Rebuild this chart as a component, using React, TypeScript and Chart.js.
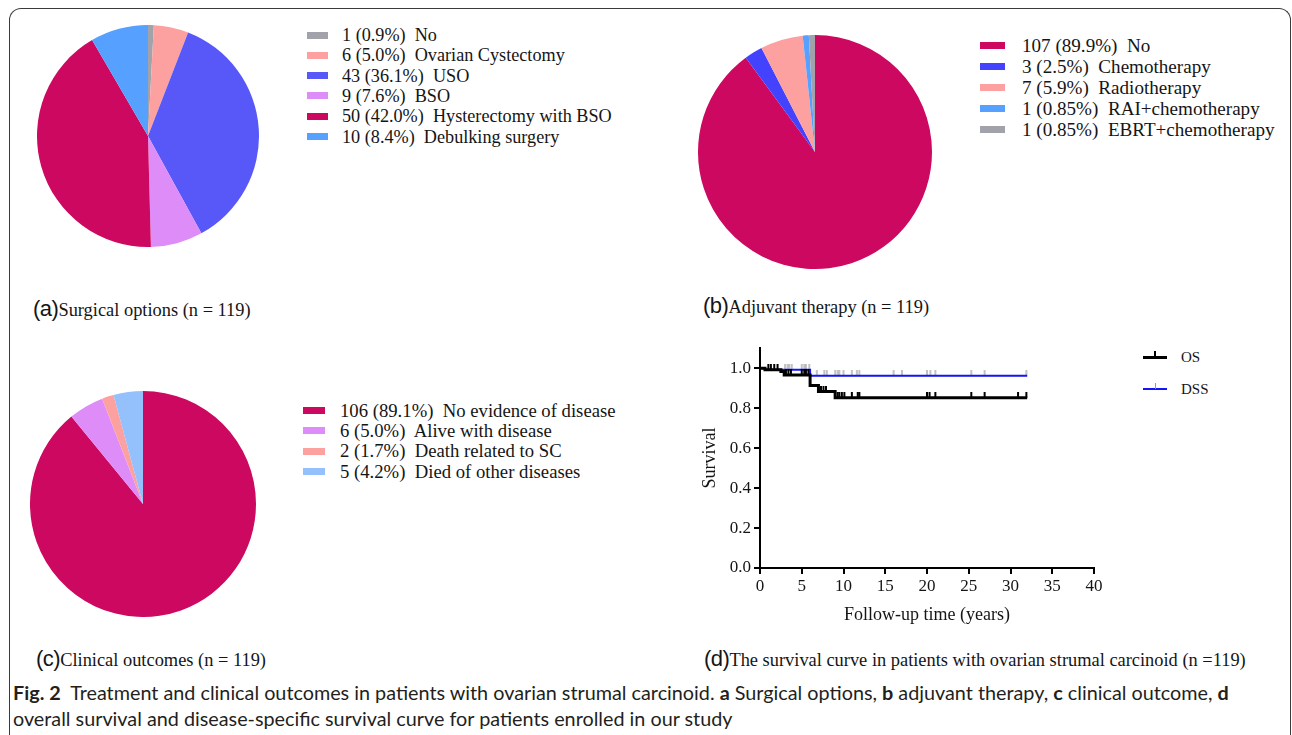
import React, { useEffect, useRef } from 'react';
import { Chart, registerables } from 'chart.js';

Chart.register(...registerables);

// ---------- Data ----------
const surgicalNames = ['No', 'Ovarian Cystectomy', 'USO', 'BSO', 'Hysterectomy with BSO', 'Debulking surgery'];
const surgicalCounts = [1, 6, 43, 9, 50, 10];
const surgicalPercents = ['0.9%', '5.0%', '36.1%', '7.6%', '42.0%', '8.4%'];
const surgicalColors = ['#A2A2AA', '#FCA0A0', '#5858F8', '#DE8CF8', '#CC0860', '#56A0FF'];

const adjuvantNames = ['No', 'Chemotherapy', 'Radiotherapy', 'RAI+chemotherapy', 'EBRT+chemotherapy'];
const adjuvantCounts = [107, 3, 7, 1, 1];
const adjuvantPercents = ['89.9%', '2.5%', '5.9%', '0.85%', '0.85%'];
const adjuvantColors = ['#CC0860', '#4242FF', '#FCA0A0', '#56A0FF', '#A2A2AA'];

const outcomeNames = ['No evidence of disease', 'Alive with disease', 'Death related to SC', 'Died of other diseases'];
const outcomeCounts = [106, 6, 2, 5];
const outcomePercents = ['89.1%', '5.0%', '1.7%', '4.2%'];
const outcomeColors = ['#CC0860', '#DE8CF8', '#FCA0A0', '#94C0FC'];

// Kaplan-Meier steps (time in years, survival)
const osTimes = [0, 0.6, 2.5, 2.9, 6.0, 7.0, 9.0, 32];
const osSurv = [1.0, 0.992, 0.983, 0.966, 0.913, 0.883, 0.852, 0.852];
const dssTimes = [0, 0.6, 6.0, 32];
const dssSurv = [1.0, 0.992, 0.962, 0.962];

// censored observations
const osCensorTimes = [1.0, 1.3, 1.7, 2.1, 3.1, 3.4, 3.7, 5.0, 5.3, 5.5, 5.8, 7.3, 7.6, 7.9, 9.3, 9.5, 9.8, 10.1, 11.0, 11.7, 11.9, 20.0, 20.3, 21.0, 25.3, 26.9, 30.9, 31.9];
const dssCensorTimes = [3.0, 3.3, 3.5, 3.8, 5.0, 5.3, 5.5, 5.9, 6.8, 7.7, 8.0, 9.0, 9.3, 9.5, 10.0, 11.0, 11.6, 11.9, 16.0, 17.0, 20.0, 20.4, 21.0, 25.3, 26.9, 31.9];

const xTickValues = [0, 5, 10, 15, 20, 25, 30, 35, 40];
const yTickValues = [0, 0.2, 0.4, 0.6, 0.8, 1.0];

// ---------- Helpers ----------
const SERIF = '"Liberation Serif", "Times New Roman", serif';
const SANS = '"Liberation Sans", Arial, sans-serif';

function stepValue(times: number[], surv: number[], t: number) {
  let v = surv[0];
  for (let i = 0; i < times.length; i++) if (times[i] <= t) v = surv[i];
  return v;
}

function makeTick(color: string, width: number, height: number) {
  const c = document.createElement('canvas');
  c.width = 4;
  c.height = height * 2;
  const ctx = c.getContext('2d')!;
  ctx.fillStyle = color;
  ctx.fillRect((4 - width) / 2, 0, width, height);
  return c;
}

function PieChart(props: { names: string[]; values: number[]; colors: string[]; left: number; top: number; size: number }) {
  const ref = useRef<HTMLCanvasElement>(null);
  useEffect(() => {
    const chart = new Chart(ref.current!, {
      type: 'pie',
      data: {
        labels: props.names,
        datasets: [{ data: props.values, backgroundColor: props.colors, borderWidth: 0 }],
      },
      options: {
        responsive: false,
        animation: false,
        layout: { padding: 0 },
        plugins: { legend: { display: false }, tooltip: { enabled: false } },
      },
    });
    return () => chart.destroy();
  }, []);
  return (
    <canvas
      ref={ref}
      width={props.size}
      height={props.size}
      style={{ position: 'absolute', left: props.left, top: props.top, width: props.size, height: props.size }}
    />
  );
}

function PieLegend(props: {
  names: string[]; counts: number[]; percents: string[]; colors: string[];
  swatchLeft: number; swatchWidth: number; textLeft: number; firstCenter: number; spacing: number; fontSize: number;
}) {
  return (
    <>
      {props.names.map((n, i) => {
        const c = props.firstCenter + i * props.spacing;
        return (
          <React.Fragment key={i}>
            <div style={{ position: 'absolute', left: props.swatchLeft, top: c - 3.5, width: props.swatchWidth, height: 7, background: props.colors[i] }} />
            <div style={{ position: 'absolute', left: props.textLeft, top: c - 10, height: 20, lineHeight: '20px', fontFamily: SERIF, fontSize: props.fontSize, color: '#151515', whiteSpace: 'pre' }}>
              {`${props.counts[i]} (${props.percents[i]})  ${n}`}
            </div>
          </React.Fragment>
        );
      })}
    </>
  );
}

function PanelLabel(props: { left: number; top: number; letter: string; text: string }) {
  return (
    <div style={{ position: 'absolute', left: props.left, top: props.top, whiteSpace: 'pre', lineHeight: '26px', fontFamily: SERIF, fontSize: 18.4, color: '#151515' }}>
      <span style={{ fontFamily: SANS, fontSize: 22, letterSpacing: -0.5 }}>({props.letter})</span>
      <span>{props.text}</span>
    </div>
  );
}

function SurvivalChart() {
  const ref = useRef<HTMLCanvasElement>(null);
  useEffect(() => {
    const osTick = makeTick('#000000', 2, 6);
    const dssTick = makeTick('#9a9a9a', 1.2, 6);
    const chart = new Chart(ref.current!, {
      type: 'line',
      data: {
        datasets: [
          {
            label: 'OS',
            data: osTimes.map((t, i) => ({ x: t, y: osSurv[i] })),
            borderColor: '#000000',
            borderWidth: 3,
            stepped: 'before',
            pointRadius: 0,
            fill: false,
          },
          {
            label: 'OS censored',
            data: osCensorTimes.map((t) => ({ x: t, y: stepValue(osTimes, osSurv, t) })),
            showLine: false,
            pointStyle: osTick as any,
            pointRadius: 6,
          },
          {
            label: 'DSS',
            data: dssTimes.map((t, i) => ({ x: t, y: dssSurv[i] })),
            borderColor: '#1414F5',
            borderWidth: 2,
            stepped: 'before',
            pointRadius: 0,
            fill: false,
          },
          {
            label: 'DSS censored',
            data: dssCensorTimes.map((t) => ({ x: t, y: stepValue(dssTimes, dssSurv, t) })),
            showLine: false,
            pointStyle: dssTick as any,
            pointRadius: 6,
          },
        ],
      },
      options: {
        responsive: false,
        animation: false,
        layout: { padding: { left: 0, right: 21, top: 11, bottom: 0 } },
        plugins: { legend: { display: false }, tooltip: { enabled: false } },
        scales: {
          x: {
            type: 'linear',
            min: 0,
            max: 40,
            afterBuildTicks: (s: any) => { s.ticks = xTickValues.map((v) => ({ value: v })); },
            afterFit: (s: any) => { s.height = 67; },
            grid: { drawOnChartArea: false, drawTicks: true, tickLength: 6, color: '#000', lineWidth: 2 },
            border: { display: true, color: '#000', width: 2 },
            ticks: { color: '#151515', font: { family: SERIF, size: 17 }, padding: 2, maxRotation: 0, callback: (v: any) => String(v) },
            title: { display: true, text: 'Follow-up time (years)', color: '#151515', font: { family: SERIF, size: 18 }, padding: { top: 0, bottom: 9 } },
          },
          y: {
            type: 'linear',
            min: 0,
            max: 1.1,
            afterBuildTicks: (s: any) => { s.ticks = yTickValues.map((v) => ({ value: v })); },
            afterFit: (s: any) => { s.width = 65; },
            grid: { drawOnChartArea: false, drawTicks: true, tickLength: 6, color: '#000', lineWidth: 2 },
            border: { display: true, color: '#000', width: 2 },
            ticks: { color: '#151515', font: { family: SERIF, size: 17 }, padding: 3, callback: (v: any) => Number(v).toFixed(1) },
            title: { display: true, text: 'Survival', color: '#151515', font: { family: SERIF, size: 18 }, padding: { top: 4, bottom: 0 } },
          },
        },
      } as any,
    });
    return () => chart.destroy();
  }, []);
  return <canvas ref={ref} width={420} height={300} style={{ position: 'absolute', left: 695, top: 335, width: 420, height: 300 }} />;
}

function KMLegend() {
  const rows = [
    { label: 'OS', color: '#000', width: 3, tick: '#000', tickW: 2, center: 357 },
    { label: 'DSS', color: '#1414F5', width: 2, tick: '#9a9a9a', tickW: 1, center: 389 },
  ];
  return (
    <>
      {rows.map((r) => (
        <React.Fragment key={r.label}>
          <div style={{ position: 'absolute', left: 1143, top: r.center - r.width / 2, width: 24, height: r.width, background: r.color }} />
          <div style={{ position: 'absolute', left: 1155 - r.tickW / 2, top: r.center - 6, width: r.tickW, height: 6, background: r.tick }} />
          <div style={{ position: 'absolute', left: 1181, top: r.center - 9, lineHeight: '18px', fontFamily: SERIF, fontSize: 15, color: '#151515' }}>{r.label}</div>
        </React.Fragment>
      ))}
    </>
  );
}

export default function App() {
  return (
    <div style={{ position: 'absolute', left: 0, top: 0, width: 1292, height: 735, background: '#fff', overflow: 'hidden' }}>
      <div
        style={{
          position: 'absolute', left: 9, top: 8, width: 1282, height: 800, boxSizing: 'border-box',
          borderTop: '1.5px solid #3a3a3a', borderLeft: '1.5px solid #3a3a3a', borderRight: '1.5px solid #3a3a3a',
          borderRadius: '12px 12px 0 0',
        }}
      />

      {/* (a) */}
      <PieChart names={surgicalNames} values={surgicalCounts} colors={surgicalColors} left={37} top={25} size={222} />
      <PieLegend names={surgicalNames} counts={surgicalCounts} percents={surgicalPercents} colors={surgicalColors}
        swatchLeft={307} swatchWidth={21} textLeft={342} firstCenter={35} spacing={20.3} fontSize={18.2} />
      <PanelLabel left={33} top={296} letter="a" text="Surgical options (n = 119)" />

      {/* (b) */}
      <PieChart names={adjuvantNames} values={adjuvantCounts} colors={adjuvantColors} left={698} top={35} size={234} />
      <PieLegend names={adjuvantNames} counts={adjuvantCounts} percents={adjuvantPercents} colors={adjuvantColors}
        swatchLeft={980} swatchWidth={25} textLeft={1022} firstCenter={45.5} spacing={21} fontSize={19.1} />
      <PanelLabel left={703} top={293} letter="b" text="Adjuvant therapy (n = 119)" />

      {/* (c) */}
      <PieChart names={outcomeNames} values={outcomeCounts} colors={outcomeColors} left={30} top={391} size={226} />
      <PieLegend names={outcomeNames} counts={outcomeCounts} percents={outcomePercents} colors={outcomeColors}
        swatchLeft={303} swatchWidth={22} textLeft={340} firstCenter={410.5} spacing={20.4} fontSize={18.7} />
      <PanelLabel left={36} top={646} letter="c" text="Clinical outcomes (n = 119)" />

      {/* (d) */}
      <SurvivalChart />
      <KMLegend />
      <PanelLabel left={704} top={646} letter="d" text="The survival curve in patients with ovarian strumal carcinoid (n =119)" />

      {/* caption */}
      <div style={{ position: 'absolute', left: 13, top: 679, width: 1275, lineHeight: '26px', fontFamily: 'Lato, "Noto Sans", sans-serif', fontSize: 19.8, color: '#231f20', whiteSpace: 'pre' }}>
        <b>Fig. 2</b>{'  Treatment and clinical outcomes in patients with ovarian strumal carcinoid. '}
        <b>a</b>{' Surgical options, '}<b>b</b>{' adjuvant therapy, '}<b>c</b>{' clinical outcome, '}<b>d</b>
        {'\n'}
        {'overall survival and disease-specific survival curve for patients enrolled in our study'}
      </div>
    </div>
  );
}
